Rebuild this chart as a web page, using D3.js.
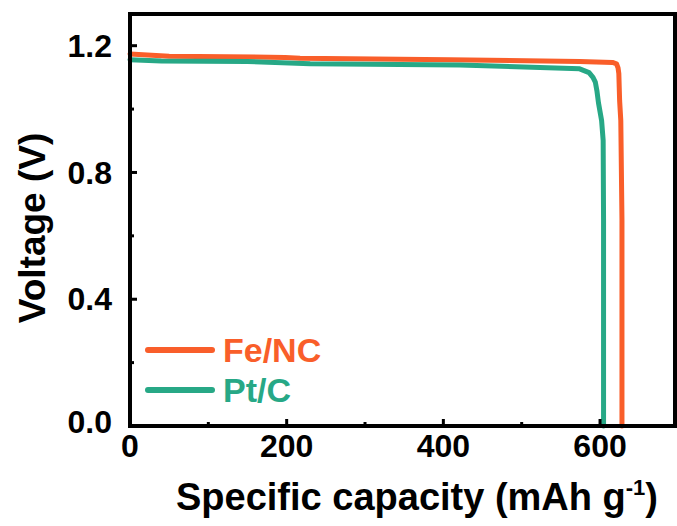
<!DOCTYPE html>
<html>
<head>
<meta charset="utf-8">
<script src="https://cdn.jsdelivr.net/npm/d3@7"></script>
<style>
  body { margin: 0; background: #fff; }
  text { font-family: "Liberation Sans", Arial, sans-serif; font-weight: bold; }
</style>
</head>
<body>
<div id="chart"></div>
<script>
// discharge curves
let feCap = [0, 50, 198, 217, 408, 574, 616, 621, 623, 624, 625, 626.5, 628, 628]
let feV = [1.174, 1.167, 1.163, 1.160, 1.156, 1.150, 1.147, 1.143, 1.130, 1.112, 1.027, 0.964, 0.649, 0]
let ptCap = [0, 40, 150, 230, 421, 574, 578, 586, 591, 594, 596, 598, 602, 604, 604.5, 604.5]
let ptV = [1.156, 1.152, 1.150, 1.143, 1.139, 1.127, 1.123, 1.115, 1.100, 1.085, 1.058, 1.02, 0.964, 0.901, 0.649, 0]
let seriesNames = ['Fe/NC', 'Pt/C']
let seriesColors = ['#f95e2a', '#27a886']
let xTicks = [0, 200, 400, 600]
let xMinor = [100, 300, 500]
let yTicks = [0, 0.4, 0.8, 1.2]
let yMinor = [0.2, 0.6, 1.0]

let W = 677, H = 526
// plot frame edges
let fL = 130, fR = 675, fT = 14, fB = 426

let svg = d3.select('#chart').append('svg')
  .attr('width', W).attr('height', H)
  .attr('xmlns', 'http://www.w3.org/2000/svg')

let x = d3.scaleLinear().domain([0, 695.7]).range([fL, fR])
let y = d3.scaleLinear().domain([0, 1.3]).range([fB, fT])

let series = [
  feCap.map((c, i) => [c, feV[i]]),
  ptCap.map((c, i) => [c, ptV[i]])
]

let line = d3.line().x(d => x(d[0])).y(d => y(d[1]))

svg.selectAll('path.curve')
  .data(series).enter()
  .append('path')
  .attr('class', 'curve')
  .attr('d', line)
  .attr('fill', 'none')
  .attr('stroke', (d, i) => seriesColors[i])
  .attr('stroke-width', 5)
  .attr('stroke-linejoin', 'round')
  .attr('stroke-linecap', 'round')

// inward ticks
let ticks = svg.append('g').attr('stroke', '#000').attr('stroke-width', 3)
xTicks.forEach(t => ticks.append('line')
  .attr('x1', x(t)).attr('x2', x(t)).attr('y1', fB).attr('y2', fB - 7))
xMinor.forEach(t => ticks.append('line')
  .attr('x1', x(t)).attr('x2', x(t)).attr('y1', fB).attr('y2', fB - 4))
yTicks.forEach(t => ticks.append('line')
  .attr('x1', fL).attr('x2', fL + 7).attr('y1', y(t)).attr('y2', y(t)))
yMinor.forEach(t => ticks.append('line')
  .attr('x1', fL).attr('x2', fL + 4).attr('y1', y(t)).attr('y2', y(t)))

// frame
svg.append('rect')
  .attr('x', fL).attr('y', fT)
  .attr('width', fR - fL).attr('height', fB - fT)
  .attr('fill', 'none').attr('stroke', '#000').attr('stroke-width', 4)

// tick labels
svg.selectAll('text.xt')
  .data(xTicks).enter()
  .append('text')
  .attr('x', d => x(d)).attr('y', 457)
  .attr('text-anchor', 'middle')
  .attr('font-size', 32)
  .text(d => d)

svg.selectAll('text.yt')
  .data(yTicks).enter()
  .append('text')
  .attr('x', 112).attr('y', d => y(d) - (d === 0 ? 4 : 0))
  .attr('dy', '0.35em')
  .attr('text-anchor', 'end')
  .attr('font-size', 32)
  .text(d => d.toFixed(1))

// axis titles
let xt = svg.append('text')
  .attr('x', 417).attr('y', 510)
  .attr('text-anchor', 'middle')
  .attr('font-size', 38)
xt.append('tspan').text('Specific capacity (mAh g')
xt.append('tspan').attr('font-size', 22).attr('dy', -15).text('-1')
xt.append('tspan').attr('dy', 15).text(')')

svg.append('text')
  .attr('transform', 'translate(45,' + 228 + ') rotate(-90)')
  .attr('text-anchor', 'middle')
  .attr('font-size', 37)
  .text('Voltage (V)')

// legend
let legend = svg.append('g')
seriesNames.forEach((name, i) => {
  let ly = 350 + i * 40
  legend.append('line')
    .attr('x1', 148).attr('x2', 212).attr('y1', ly).attr('y2', ly)
    .attr('stroke', seriesColors[i]).attr('stroke-width', 6)
    .attr('stroke-linecap', 'round')
  legend.append('text')
    .attr('x', 223).attr('y', ly).attr('dy', '0.36em')
    .attr('font-size', 34)
    .attr('fill', seriesColors[i])
    .text(name)
})
</script>
</body>
</html>
